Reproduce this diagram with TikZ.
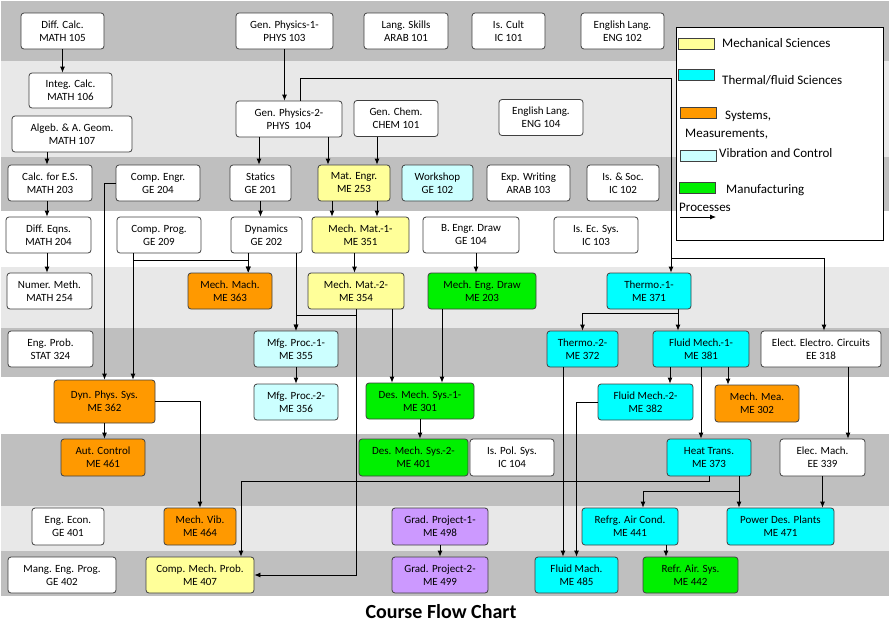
\documentclass[tikz,border=0pt]{standalone}
\usepackage{fontspec}
\setmainfont{Carlito}
\usetikzlibrary{arrows.meta,positioning}
\definecolor{edge}{HTML}{404040}
\definecolor{banddark}{HTML}{BFBFBF}
\definecolor{bandlight}{HTML}{E8E8E8}
\definecolor{mechyellow}{HTML}{FFFF99}
\definecolor{thermocyan}{HTML}{00FFFF}
\definecolor{sysorange}{HTML}{FF9900}
\definecolor{vibcyan}{HTML}{CCFFFF}
\definecolor{mfggreen}{HTML}{00F000}
\definecolor{projpurple}{HTML}{CC99FF}
\tikzstyle{course} = [rectangle, rounded corners=3pt, minimum height=36pt, inner sep=1pt, text centered, align=center, draw=edge,
     line width=0.8pt, fill=white, font=\fontsize{11}{13}\selectfont]
\tikzstyle{mech} = [course, fill=mechyellow]
\tikzstyle{thermo} = [course, fill=thermocyan]
\tikzstyle{sys} = [course, fill=sysorange]
\tikzstyle{vib} = [course, fill=vibcyan]
\tikzstyle{mfg} = [course, fill=mfggreen]
\tikzstyle{proj} = [course, fill=projpurple]
\tikzstyle{line} = [draw, -{Latex[length=6pt,width=5pt]}, line width=0.8pt]
\tikzstyle{darkband} = [fill=banddark]
\tikzstyle{lightband} = [fill=bandlight]
\tikzstyle{swatch} = [rectangle, draw=edge, line width=0.6pt, minimum width=36pt, minimum height=11pt, inner sep=0pt]
\tikzstyle{legtext} = [anchor=west, inner sep=0pt, font=\fontsize{13}{15}\selectfont]

\begin{document}
\begin{tikzpicture}[x=1pt,y=-1pt]
\useasboundingbox (0,0) rectangle (896,627);
% semester bands
\path[darkband] (1,1) rectangle (889,61);
\path[lightband] (1,61) rectangle (889,157);
\path[darkband] (1,157) rectangle (889,211);
\path[lightband] (1,267) rectangle (889,328);
\path[darkband] (1,328) rectangle (889,377);
\path[darkband] (1,434) rectangle (889,506);
\path[lightband] (1,506) rectangle (889,551);
\path[darkband] (1,551) rectangle (889,596);

% row 1
\node (math105) [course, minimum width=83pt] at (62.5,31) {Diff. Calc.\\MATH 105};
\node (phys103) [course, minimum width=97pt] at (284.5,31) {Gen. Physics-1-\\PHYS 103};
\node (arab101) [course, minimum width=84pt] at (406,31) {Lang. Skills\\ARAB 101};
\node (ic101) [course, minimum width=73pt] at (508.5,31) {Is. Cult\\IC 101};
\node (eng102) [course, minimum width=83pt] at (622.5,31) {English Lang.\\ENG 102};
% row 2
\node (math106) [course, minimum width=83pt, minimum height=35pt] at (70.5,90.5) {Integ. Calc.\\MATH 106};
\node (math107) [course, minimum width=120pt] at (72,134) {Algeb. \& A. Geom.\\MATH 107};
\node (phys104) [course, minimum width=106pt] at (289,119) {Gen. Physics-2-\\PHYS\ \ 104};
\node (chem101) [course, minimum width=84pt] at (396,118.5) {Gen. Chem.\\CHEM 101};
\node (eng104) [course, minimum width=84pt] at (541,117.5) {English Lang.\\ENG 104};
% row 3
\node (math203) [course, minimum width=84pt] at (50,183) {Calc. for E.S.\\MATH 203};
\node (ge204) [course, minimum width=84pt] at (158,183) {Comp. Engr.\\GE 204};
\node (ge201) [course, minimum width=61pt] at (260.5,183) {Statics\\GE 201};
\node (me253) [mech, minimum width=72pt] at (354,183) {Mat. Engr.\\ME 253};
\node (ge102) [vib, minimum width=71pt] at (437.5,183) {Workshop\\GE 102};
\node (arab103) [course, minimum width=83pt] at (528.5,183) {Exp. Writing\\ARAB 103};
\node (ic102) [course, minimum width=72pt] at (623,183) {Is. \& Soc.\\IC 102};
% row 4
\node (math204) [course, minimum width=85pt] at (48.5,235) {Diff. Eqns.\\MATH 204};
\node (ge209) [course, minimum width=84pt] at (159,235) {Comp. Prog.\\GE 209};
\node (ge202) [course, minimum width=71pt] at (266.5,235) {Dynamics\\GE 202};
\node (me351) [mech, minimum width=97pt] at (360.5,235) {Mech. Mat.-1-\\ME 351};
\node (ge104) [course, minimum width=96pt] at (471,235) {B. Engr. Draw\\GE 104};
\node (ic103) [course, minimum width=84pt] at (596,235) {Is. Ec. Sys.\\IC 103};
% row 5
\node (math254) [course, minimum width=85pt] at (49.5,291) {Numer. Meth.\\MATH 254};
\node (me363) [sys, minimum width=84pt] at (230,291) {Mech. Mach.\\ME 363};
\node (me354) [mech, minimum width=96pt] at (356,291) {Mech. Mat.-2-\\ME 354};
\node (me203) [mfg, minimum width=108pt] at (482,291) {Mech. Eng. Draw\\ME 203};
\node (me371) [thermo, minimum width=84pt] at (649,291) {Thermo.-1-\\ME 371};
% row 6
\node (stat324) [course, minimum width=85pt] at (50.5,349) {Eng. Prob.\\STAT 324};
\node (me355) [vib, minimum width=84pt] at (296,349) {Mfg. Proc.-1-\\ME 355};
\node (me372) [thermo, minimum width=71pt] at (582.5,349) {Thermo.-2-\\ME 372};
\node (me381) [thermo, minimum width=96pt] at (701,349) {Fluid Mech.-1-\\ME 381};
\node (ee318) [course, minimum width=120pt] at (821,349) {Elect. Electro. Circuits\\EE 318};
% row 7
\node (me362) [sys, minimum width=101pt, minimum height=43pt] at (104.5,401.5) {Dyn. Phys. Sys.\\ME 362};
\node (me356) [vib, minimum width=84pt] at (296,402) {Mfg. Proc.-2-\\ME 356};
\node (me301) [mfg, minimum width=108pt] at (420,401) {Des. Mech. Sys.-1-\\ME 301};
\node (me382) [thermo, minimum width=95pt] at (645.5,402) {Fluid Mech.-2-\\ME 382};
\node (me302) [sys, minimum width=84pt, minimum height=37pt] at (757,403.5) {Mech. Mea.\\ME 302};
% row 8
\node (me461) [sys, minimum width=84pt, minimum height=37pt] at (103,457.5) {Aut. Control\\ME 461};
\node (me401) [mfg, minimum width=109pt, minimum height=37pt] at (413.5,457.5) {Des. Mech. Sys.-2-\\ME 401};
\node (ic104) [course, minimum width=84pt, minimum height=37pt] at (512,457.5) {Is. Pol. Sys.\\IC 104};
\node (me373) [thermo, minimum width=84pt, minimum height=37pt] at (709,457.5) {Heat Trans.\\ME 373};
\node (ee339) [course, minimum width=85pt, minimum height=37pt] at (822.5,457.5) {Elec. Mach.\\EE 339};
% row 9
\node (ge401) [course, minimum width=72pt, minimum height=37pt] at (68,526.5) {Eng. Econ.\\GE 401};
\node (me464) [sys, minimum width=72pt, minimum height=37pt] at (200,526.5) {Mech. Vib.\\ME 464};
\node (me498) [proj, minimum width=96pt, minimum height=37pt] at (440,526.5) {Grad. Project-1-\\ME 498};
\node (me441) [thermo, minimum width=96pt, minimum height=37pt] at (630,526.5) {Refrg. Air Cond.\\ME 441};
\node (me471) [thermo, minimum width=107pt, minimum height=37pt] at (780.5,526.5) {Power Des. Plants\\ME 471};
% row 10
\node (ge402) [course, minimum width=108pt] at (62,575) {Mang. Eng. Prog.\\GE 402};
\node (me407) [mech, minimum width=108pt] at (200,575) {Comp. Mech. Prob.\\ME 407};
\node (me499) [proj, minimum width=96pt] at (440,575) {Grad. Project-2-\\ME 499};
\node (me485) [thermo, minimum width=83pt] at (576.5,575) {Fluid Mach.\\ME 485};
\node (me442) [mfg, minimum width=95pt] at (690.5,575) {Refr. Air. Sys.\\ME 442};

% prerequisites
\draw[line] (math105.south) -- (math105.south |- math106.north);
\draw[line] ([xshift=-25pt]math107.south) -- ([xshift=-25pt]math107.south |- math203.north);
\draw[line] ([xshift=-3pt]math203.south) -- ([xshift=-3pt]math203.south |- math204.north);
\draw[line] ([xshift=-1.5pt]math204.south) -- ([xshift=-1.5pt]math204.south |- math254.north);
\draw[line] (phys103.south) -- (phys103.south |- phys104.north);
\draw[line] ([xshift=-30pt]phys104.south) -- ([xshift=-30pt]phys104.south |- ge201.north);
\draw[line] ([xshift=39pt]phys104.south) -- ([xshift=39pt]phys104.south |- me253.north);
\draw[line] ([xshift=-19pt]chem101.south) -- ([xshift=-19pt]chem101.south |- me253.north);
\coordinate (thermoTop) at (671,78);
\coordinate (eeSplit) at (671,258);
\draw[line] ([xshift=11pt]phys104.north) |- (thermoTop) -- (thermoTop |- me371.north);
\draw[line] (eeSplit) -| ([xshift=3pt]ee318.north);
\draw[line] (ge201.south) -- (ge201.south |- ge202.north);
\draw[line] ([xshift=-22pt]me253.south) -- ([xshift=-22pt]me253.south |- me351.north);
\draw[line] ([xshift=23pt]me253.south) -- ([xshift=23pt]me253.south |- me351.north);
\draw[line] ([xshift=-6pt]me351.south) -- ([xshift=-6pt]me351.south |- me354.north);
\draw[line] ([xshift=5pt]ge104.south) -- ([xshift=5pt]ge104.south |- me203.north);
\draw[line] (ge204.west) -| (me362.north);
\draw[line] ([xshift=-26pt]ge209.south) -- ([xshift=-26pt]ge209.south |- me362.north);
\coordinate (progSplit) at (133,260);
\draw[line] ([xshift=-26pt]ge209.south) -- (progSplit) -| ([xshift=18pt]me363.north);
\draw[line] ([xshift=-18pt]ge202.south) -- ([xshift=-18pt]ge202.south |- me363.north);
\draw[line] (me355.north |- ge202.south) -- (me355.north);
\coordinate (matSplit) at (356,315);
\draw[line] (me354.south) -- (matSplit) -| (me355.north);
\draw[line] (me354.south) |- (me407.east);
\draw[line] ([xshift=36pt]me354.south) -- ([xshift=36pt]me354.south |- me301.north);
\draw[line] ([xshift=-40pt]me203.south) -- ([xshift=-40pt]me203.south |- me301.north);
\draw[line] (me355) -- (me356);
\draw[line] (me301.south) -- (me301.south |- me401.north);
\draw[line] (me362.south) -- (me362.south |- me461.north);
\draw[line] (me362.east) -| (me464.north);
\coordinate (heatSplit) at (709,481);
\draw[line] (me373.south) -- (heatSplit) -| ([xshift=41pt]me407.north);
\coordinate (heatSplitB) at (739,491);
\draw[line] ([xshift=30pt]me373.south) -- ([xshift=30pt]me373.south |- me471.north);
\draw[line] (heatSplitB) -| ([xshift=13pt]me441.north);
\draw[line] ([xshift=29pt]me371.south) -- ([xshift=29pt]me371.south |- me381.north);
\coordinate (thermoSplit) at (678,313);
\draw[line] (thermoSplit) -| (me372.north);
\draw[line] ([xshift=-31pt]me381.south) -- ([xshift=-31pt]me381.south |- me382.north);
\draw[line] ([xshift=27pt]me381.south) -- ([xshift=27pt]me381.south |- me302.north);
\draw[line] (me381.south) -- (me381.south |- me373.north);
\draw[line] ([xshift=27pt]ee318.south) -- ([xshift=27pt]ee318.south |- ee339.north);
\draw[line] (ee339.south) -- (ee339.south |- me471.north);
\draw[line] ([xshift=36pt]me441.south) -- ([xshift=36pt]me441.south |- me442.north);
\draw[line] ([xshift=-19.5pt]me372.south) -- ([xshift=-19.5pt]me372.south |- me485.north);
\draw[line] (me382.west) -| (me485.north);
\draw[line] (me498) -- (me499);

% legend
\node (legbox) [rectangle, draw=black, fill=white, line width=0.6pt, minimum width=207pt, minimum height=213pt, inner sep=0pt] at (779.5,133.5) {};
\node (swMech) [swatch, fill=mechyellow] at (696,44) {};
\node (swThermo) [swatch, fill=thermocyan] at (696,75) {};
\node (swSys) [swatch, fill=sysorange] at (698.5,112.5) {};
\node (swVib) [swatch, fill=vibcyan] at (698.5,155.5) {};
\node (swMfg) [swatch, fill=mfggreen] at (697,187.5) {};
\node (legMech) [legtext] at (722,43) {Mechanical Sciences};
\node (legThermo) [legtext] at (722,80) {Thermal/fluid Sciences};
\node (legSys) [legtext] at (725,116) {Systems,};
\node (legMea) [legtext] at (685,134) {Measurements,};
\node (legVib) [legtext] at (719,153) {Vibration and Control};
\node (legMfg) [legtext] at (726,190) {Manufacturing};
\node (legProc) [legtext] at (679,207) {Processes};
\coordinate (legArrowA) at (680,217);
\coordinate (legArrowB) at (716,217);
\draw[line] (legArrowA) -- (legArrowB);

\node (title) [font=\fontsize{20}{24}\selectfont\bfseries] at (441,612) {Course Flow Chart};
\end{tikzpicture}
\end{document}
